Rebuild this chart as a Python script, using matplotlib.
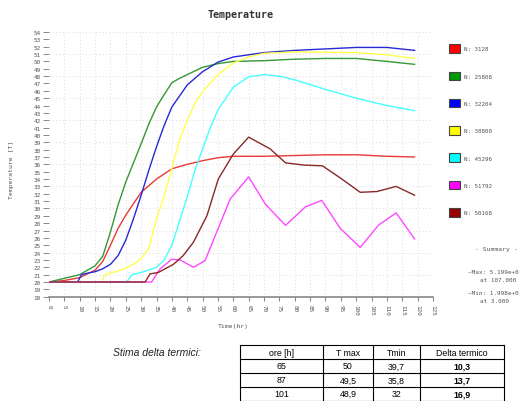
import matplotlib
matplotlib.use('Agg')
import matplotlib.pyplot as plt
from matplotlib.patches import Patch
from matplotlib.lines import Line2D

# Courbes (temps en h, température)
t_3128 = [0, 5, 10, 15, 17.5, 20, 22.5, 25, 30, 35, 40, 45, 50, 55, 60, 70, 80, 90, 100, 110, 119]
T_3128 = [20, 20.2, 20.6, 21.6, 22.8, 25.0, 27.3, 29.1, 32.2, 34.0, 35.4, 36.0, 36.5, 36.9, 37.1, 37.1, 37.2, 37.3, 37.3, 37.1, 37.0]

t_25808 = [0, 5, 10, 15, 17.5, 20, 22.5, 25, 27.5, 30, 32.5, 35, 37.5, 40, 42.5, 45, 50, 55, 60, 70, 80, 90, 100, 110, 119]
T_25808 = [20, 20.5, 21.0, 22.2, 23.5, 26.8, 30.5, 33.6, 36.2, 38.8, 41.5, 43.8, 45.5, 47.1, 47.7, 48.2, 49.2, 49.7, 50.0, 50.1, 50.3, 50.4, 50.4, 50.0, 49.6]

t_32204 = [0, 9.3, 10.6, 12.5, 15, 17.5, 20, 22.5, 25, 27.5, 30, 32.5, 35, 37.5, 40, 45, 50, 55, 60, 65, 70, 80, 90, 100, 110, 119]
T_32204 = [20, 20, 21, 21.2, 21.4, 21.8, 22.4, 23.6, 25.7, 28.6, 31.8, 35.2, 38.4, 41.3, 43.8, 46.8, 48.6, 49.9, 50.6, 50.9, 51.2, 51.5, 51.7, 51.9, 51.9, 51.5]

t_38800 = [0, 17.2, 18.2, 20, 22.5, 25, 27.5, 30, 32.5, 35, 37.5, 40, 42.5, 45, 47.5, 50, 55, 60, 65, 70, 80, 90, 100, 110, 119]
T_38800 = [20, 20, 21, 21.2, 21.5, 21.9, 22.4, 23.2, 24.6, 28.6, 31.7, 35.5, 39.3, 42.0, 44.3, 45.9, 48.2, 49.8, 50.6, 51.1, 51.3, 51.25, 51.2, 50.9, 50.4]

t_45296 = [0, 25.3, 27, 30, 35, 37.5, 40, 42.5, 45, 47.5, 50, 52.5, 55, 60, 65, 70, 75, 80, 90, 100, 110, 119]
T_45296 = [20, 20, 21, 21.3, 22, 23.0, 25.0, 28.3, 31.6, 35.2, 38.1, 41.0, 43.4, 46.5, 47.9, 48.2, 48.0, 47.5, 46.2, 45.0, 44.0, 43.3]

t_51792 = [0, 33.4, 36.2, 40, 42.7, 47, 50.8, 54.6, 59, 65, 70.4, 77, 83.4, 88.8, 94.8, 101.3, 107.3, 113, 119]
T_51792 = [20, 20, 21.8, 23.1, 23.0, 22.0, 22.9, 26.8, 31.3, 34.3, 30.6, 27.7, 30.2, 31.1, 27.3, 24.7, 27.75, 29.4, 25.85]

t_50168 = [0, 31.3, 32.9, 35.6, 40.5, 43.7, 47, 51.4, 55.1, 60, 65, 72, 77, 83, 89, 95, 101.3, 106.7, 113, 119]
T_50168 = [20, 20, 21.1, 21.3, 22.4, 23.6, 25.4, 29.0, 34.0, 37.4, 39.7, 38.1, 36.2, 35.9, 35.8, 34.1, 32.2, 32.3, 33.0, 31.8]

series_names = ['N: 3128', 'N: 25808', 'N: 32204', 'N: 38800', 'N: 45296', 'N: 51792', 'N: 50168']
line_colors = ['#e83838', '#349834', '#2828d4', '#ffff4c', '#48ffff', '#ff48ff', '#882828']
box_colors = ['#ff0000', '#009900', '#0000ff', '#ffff00', '#00ffff', '#ff00ff', '#990000']

# Tableau "Stima delta termici"
col_headers = ['ore [h]', 'T max', 'Tmin', 'Delta termico']
ore = ['65', '87', '101']
tmax = ['50', '49,5', '48,9']
tmin = ['39,7', '35,8', '32']
delta = ['10,3', '13,7', '16,9']

W, H = 520, 402
fig = plt.figure(figsize=(W / 100, H / 100), dpi=100)
ax = fig.add_axes([49 / W, 1 - 297.7 / H, 384 / W, 264.7 / H])

data = [(t_3128, T_3128), (t_25808, T_25808), (t_32204, T_32204), (t_38800, T_38800),
        (t_45296, T_45296), (t_51792, T_51792), (t_50168, T_50168)]
for (tt, TT), c in zip(data, line_colors):
    ax.plot(tt, TT, color=c, lw=1.0)

ax.set_xlim(0, 125)
ax.set_ylim(18, 54)
ax.set_xticks(range(0, 126, 5))
ax.set_yticks(range(18, 55))
for s in ['top', 'right', 'left']:
    ax.spines[s].set_visible(False)
ax.spines['bottom'].set_color('#888888')
ax.spines['bottom'].set_linewidth(1.2)
ax.tick_params(axis='y', length=4.3, width=0.6, color='#777777', pad=1.5,
               labelsize=4.3, labelcolor='#555555')
ax.tick_params(axis='x', length=3, width=0.8, color='#888888', pad=2,
               labelsize=4.3, labelcolor='#555555', labelrotation=-90)
for lab in ax.get_xticklabels() + ax.get_yticklabels():
    lab.set_family('DejaVu Sans Mono')

# grille en pointillés
for x in range(5, 126, 5):
    ax.axvline(x, color='#cfcfcf', lw=0.6, ls=(0, (1, 3)), zorder=0)
for y in range(21, 55, 3):
    ax.axhline(y, color='#cfcfcf', lw=0.6, ls=(0, (1, 3)), zorder=0)

mono = 'DejaVu Sans Mono'
fig.text(240 / W, 1 - 15 / H, 'Temperature', family=mono, size=7.2, color='#333333',
         ha='center', va='center', weight='bold')
fig.text(12 / W, 1 - 170 / H, 'Temperature [T]', family=mono, size=4.6, color='#555555',
         rotation=90, ha='center', va='center')
fig.text(233 / W, 1 - 327 / H, 'Time(hr)', family=mono, size=4.6, color='#555555',
         ha='center', va='center')

# légende
handles = [Patch(facecolor=c, edgecolor='#444444', lw=0.8) for c in box_colors]
leg = fig.legend(handles, series_names, loc='upper left', bbox_to_anchor=(444 / W, 1 - 40 / H),
                 frameon=False, prop={'family': mono, 'size': 4.2}, handlelength=1.9,
                 handleheight=1.9, labelspacing=3.2, handletextpad=0.6)
for txt in leg.get_texts():
    txt.set_color('#555555')

# résumé
fig.text(475 / W, 1 - 250 / H, '- Summary -', family=mono, size=4.6, color='#555555', va='center')
fig.text(468 / W, 1 - 272.7 / H, '~Max: 5.199e+0', family=mono, size=4.3, color='#555555', va='center')
fig.text(480 / W, 1 - 281 / H, 'at 107.000', family=mono, size=4.3, color='#555555', va='center')
fig.text(468 / W, 1 - 293.7 / H, '~Min: 1.998e+0', family=mono, size=4.3, color='#555555', va='center')
fig.text(480 / W, 1 - 301.7 / H, 'at 3.000', family=mono, size=4.3, color='#555555', va='center')

# tableau
fig.text(113 / W, 1 - 353 / H, 'Stima delta termici:', family='Liberation Sans', style='italic',
         size=7.5, color='#222222', va='center')
xs = [240, 323, 373, 420, 504]
ys = [346, 360, 374, 388, 401.5]
for x in xs:
    fig.add_artist(Line2D([x / W, x / W], [1 - ys[0] / H, 1 - ys[-1] / H], color='black', lw=0.8))
for y in ys:
    fig.add_artist(Line2D([xs[0] / W, xs[-1] / W], [1 - y / H, 1 - y / H], color='black', lw=0.8))
rows = [col_headers] + [list(r) for r in zip(ore, tmax, tmin, delta)]
for i, row in enumerate(rows):
    yc = (ys[i] + ys[i + 1]) / 2
    for j, val in enumerate(row):
        xc = (xs[j] + xs[j + 1]) / 2
        bold = (i > 0 and j == 3)
        fig.text(xc / W, 1 - yc / H, val, family='Liberation Sans', size=6.3,
                 weight='bold' if bold else 'normal', ha='center', va='center')

fig.savefig('out.png', dpi=100)
plt.close()
